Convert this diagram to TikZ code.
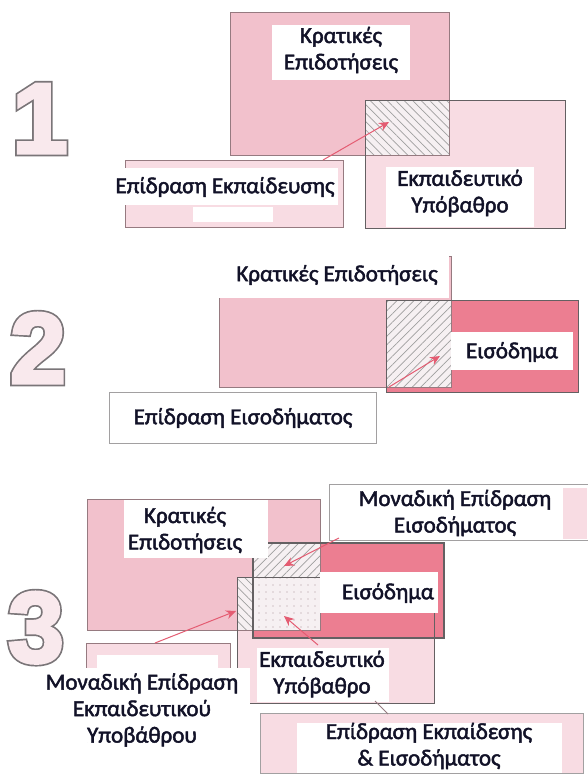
\documentclass[tikz,border=0pt]{standalone}
\usepackage{fontspec}
\setmainfont{Carlito}
\newfontfamily\lblfont{Carlito}[FakeBold=2]
\newfontfamily\digitfont{Liberation Sans}
\usepackage{tikz}
\usetikzlibrary{arrows.meta,patterns.meta}

\definecolor{grantpink}{RGB}{242,193,204}
\definecolor{edupink}{RGB}{248,220,227}
\definecolor{incpink}{RGB}{236,126,145}
\definecolor{hatchbg}{RGB}{246,240,242}
\definecolor{framegray}{RGB}{100,96,98}
\definecolor{softframe}{RGB}{150,122,128}
\definecolor{arrowred}{RGB}{228,92,114}
\definecolor{digitfill}{RGB}{249,233,237}
\definecolor{ink}{RGB}{18,18,40}

% outlined digit: a heavy grey stroke under a lighter pink one
\newcommand{\outlinedigit}[1]{%
  \rlap{\special{pdf:literal direct 2 Tr 6.8 w 0.48 0.46 0.47 RG}#1\special{pdf:literal direct 0 Tr}}%
  \special{pdf:literal direct 2 Tr 3.4 w 0.976 0.914 0.929 RG}#1\special{pdf:literal direct 0 Tr}}

\tikzset{
  txt/.style={text=ink, align=center, inner sep=0pt, font=\lblfont\fontsize{23}{26.5}\selectfont},
  digit/.style={anchor=base, inner sep=0pt, text=digitfill, font=\digitfont\bfseries\fontsize{100}{100}\selectfont},
  nwhatch/.style={fill=hatchbg, postaction={pattern={Lines[angle=-45,distance=6pt,line width=0.7pt]}, pattern color=gray!75}},
  nehatch/.style={fill=hatchbg, postaction={pattern={Lines[angle=45,distance=6pt,line width=0.7pt]}, pattern color=gray!75}},
  dotfill/.style={fill=hatchbg, postaction={pattern={Dots[distance=7pt,radius=0.6pt]}, pattern color=softframe!80}},
  arr/.style={arrowred, line width=1pt, -{Stealth[length=10pt,width=9pt]}}
}

\begin{document}
\begin{tikzpicture}[x=1pt,y=-1pt]
\useasboundingbox (0,0) rectangle (587,774);
\fill[white] (0,0) rectangle (587,774);

% ---------- 1
\node[digit] (num1) at (40,153) {\outlinedigit{1}};
\fill[grantpink] (230,12) rectangle (449,155);
\fill[edupink] (365,100) rectangle (565,228);
\fill[nwhatch] (365,100) rectangle (449,155);
\draw[softframe, line width=1pt] (230,12) rectangle (449,155);
\draw[framegray, line width=1pt] (365,100) rectangle (565,228);
\draw[softframe, line width=1pt, fill=edupink] (125,160) rectangle (343,227);
\fill[white] (105,168) rectangle (338,205);
\fill[white] (193,207) rectangle (273,222);
\fill[white] (272,25) rectangle (410,80);
\fill[white] (386,167) rectangle (534,227);
\node[txt] (grant1) at (341,50) {Κρατικές\\Επιδοτήσεις};
\node[txt] (edu1) at (460,193) {Εκπαιδευτικό\\Υπόβαθρο};
\node[txt] (eff1) at (225,187) {Επίδραση Εκπαίδευσης};
\coordinate (tail1) at (323,160);
\coordinate (tip1) at (389,122);
\draw[arr] (tail1) -- (tip1);

% ---------- 2
\node[digit] (num2) at (38,383) {\outlinedigit{2}};
\fill[grantpink] (219,256) rectangle (451,387);
\fill[incpink] (386,300) rectangle (578,392);
\fill[nehatch] (386,300) rectangle (451,387);
\draw[softframe, line width=1pt] (219,256) rectangle (451,387);
\draw[framegray, line width=1pt] (386,300) rectangle (578,392);
\fill[white] (214,253) rectangle (449,298);
\fill[white] (451,332) rectangle (573,370);
\draw[framegray!60, line width=1pt, fill=white] (109,392) rectangle (376,443);
\node[txt] (grant2) at (337,275) {Κρατικές Επιδοτήσεις};
\node[txt] (inc2) at (512,352) {Εισόδημα};
\node[txt] (eff2) at (243,418) {Επίδραση Εισοδήματος};
\coordinate (tail2) at (389,387);
\coordinate (tip2) at (440,356);
\draw[arr] (tail2) -- (tip2);

% ---------- 3
\node[digit] (num3) at (36,662) {\outlinedigit{3}};
\fill[grantpink] (87,499) rectangle (320,630);
\fill[edupink] (237,577) rectangle (434,703);
\fill[incpink] (253,543) rectangle (444,638);
\fill[nehatch] (253,543) rectangle (320,577);
\fill[nwhatch] (237,577) rectangle (253,630);
\fill[dotfill] (253,577) rectangle (320,630);
\draw[softframe, line width=1pt] (87,499) rectangle (320,630);
\draw[framegray, line width=1pt] (237,577) rectangle (434,703);
\draw[framegray, line width=1.2pt] (253,543) rectangle (444,638);
\draw[softframe, line width=1pt, fill=edupink] (86,643) rectangle (230,700);
\fill[white] (97,655) rectangle (218,700);
\draw[framegray!60, line width=1pt, fill=white] (329,484) rectangle (600,540);
\fill[edupink] (563,488) rectangle (587,539);
\fill[white] (124,500) rectangle (268,558);
\fill[white] (320,572) rectangle (438,613);
\fill[white] (257,648) rectangle (389,702);
\fill[white] (40,668) rectangle (250,774);
\draw[framegray!60, line width=1pt, fill=edupink] (260,713) rectangle (583,773);
\fill[white] (297,723) rectangle (562,773);
\node[txt] (grant3) at (185,530) {Κρατικές\\Επιδοτήσεις};
\node[txt] (uinc3) at (455,513) {Μοναδική Επίδραση\\Εισοδήματος};
\node[txt] (inc3) at (388,593) {Εισόδημα};
\node[txt] (edu3) at (322,674) {Εκπαιδευτικό\\Υπόβαθρο};
\node[txt] (uedu3) at (142,710) {Μοναδική Επίδραση\\Εκπαιδευτικού\\Υποβάθρου};
\node[txt] (both3) at (429,746) {Επίδραση Εκπαίδεσης\\\& Εισοδήματος};
\coordinate (tailA) at (339,538);
\coordinate (tipA) at (284,566);
\coordinate (tailB) at (155,643);
\coordinate (tipB) at (236,611);
\coordinate (tailC) at (318,645);
\coordinate (tipC) at (284,616);
\coordinate (tailD) at (388,714);
\coordinate (tipD) at (375,701);
\draw[arr] (tailA) -- (tipA);
\draw[arr] (tailB) -- (tipB);
\draw[arr] (tailC) -- (tipC);
\draw[softframe, line width=0.8pt] (tailD) -- (tipD);
\end{tikzpicture}
\end{document}
